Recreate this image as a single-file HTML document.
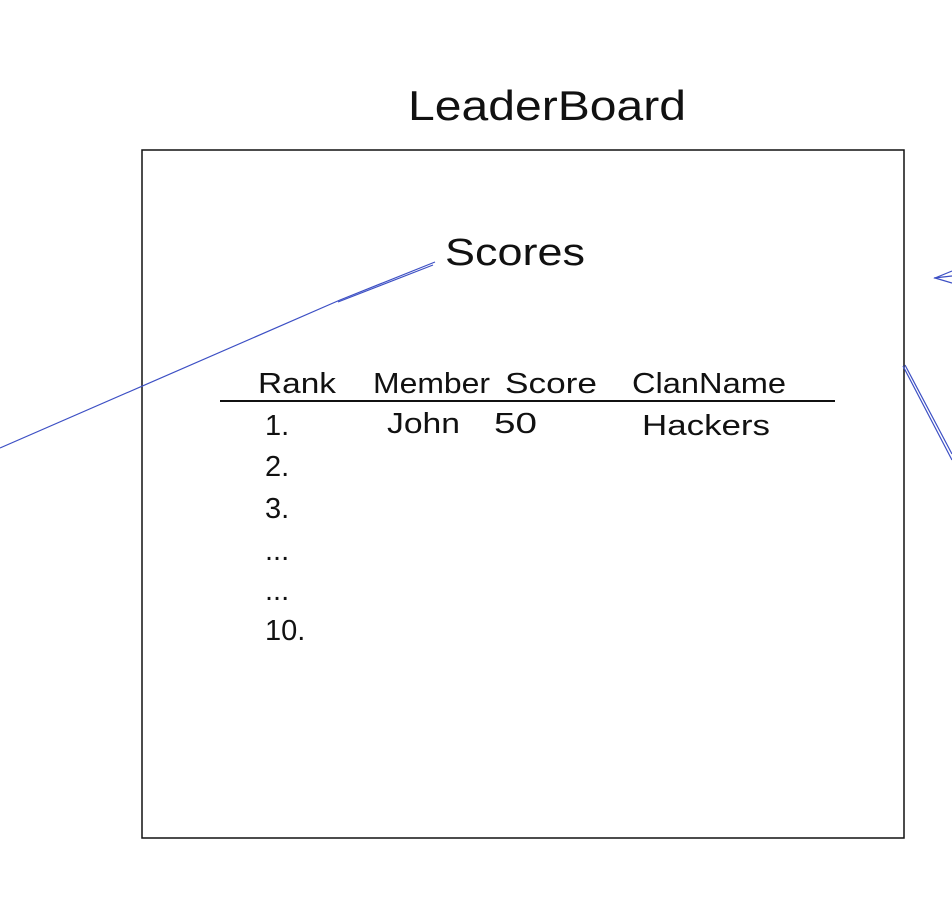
<!DOCTYPE html>
<html><head><meta charset="utf-8"><style>
html,body{margin:0;padding:0;background:#fff;}
svg{display:block;}
text{font-family:"Liberation Sans",sans-serif;fill:#111;}
</style></head><body>
<svg width="952" height="920" viewBox="0 0 952 920">
<rect width="952" height="920" fill="#fff"/>
<text x="408" y="120" font-size="42" textLength="278" lengthAdjust="spacingAndGlyphs">LeaderBoard</text>
<rect x="142" y="150" width="762" height="688" fill="none" stroke="#111" stroke-width="1.5"/>
<text x="445" y="265" font-size="38" textLength="140" lengthAdjust="spacingAndGlyphs">Scores</text>
<g stroke="#3c4fc4" stroke-width="1.2" fill="none">
<path d="M435 262 L340 300 L0 448"/>
<path d="M433 265 L338 302"/>
<path d="M952 271 L935 278 L952 283"/>
<path d="M934 278 L952 276"/>
<path d="M903 366 L952 460"/>
<path d="M905 365 L952 454"/>
</g>
<g font-size="29">
<text x="258" y="393" textLength="78" lengthAdjust="spacingAndGlyphs">Rank</text>
<text x="373" y="393" textLength="117" lengthAdjust="spacingAndGlyphs">Member</text>
<text x="505" y="393" textLength="92" lengthAdjust="spacingAndGlyphs">Score</text>
<text x="632" y="393" textLength="154" lengthAdjust="spacingAndGlyphs">ClanName</text>
</g>
<line x1="220" y1="401" x2="835" y2="401" stroke="#111" stroke-width="2"/>
<g font-size="29">
<text x="265" y="435">1.</text>
<text x="387" y="433" textLength="73" lengthAdjust="spacingAndGlyphs">John</text>
<text x="494" y="433" textLength="43" lengthAdjust="spacingAndGlyphs">50</text>
<text x="642" y="435" textLength="128" lengthAdjust="spacingAndGlyphs">Hackers</text>
<text x="265" y="476">2.</text>
<text x="265" y="518">3.</text>
<text x="265" y="560">...</text>
<text x="265" y="600">...</text>
<text x="265" y="640">10.</text>
</g>
</svg>
</body></html>
